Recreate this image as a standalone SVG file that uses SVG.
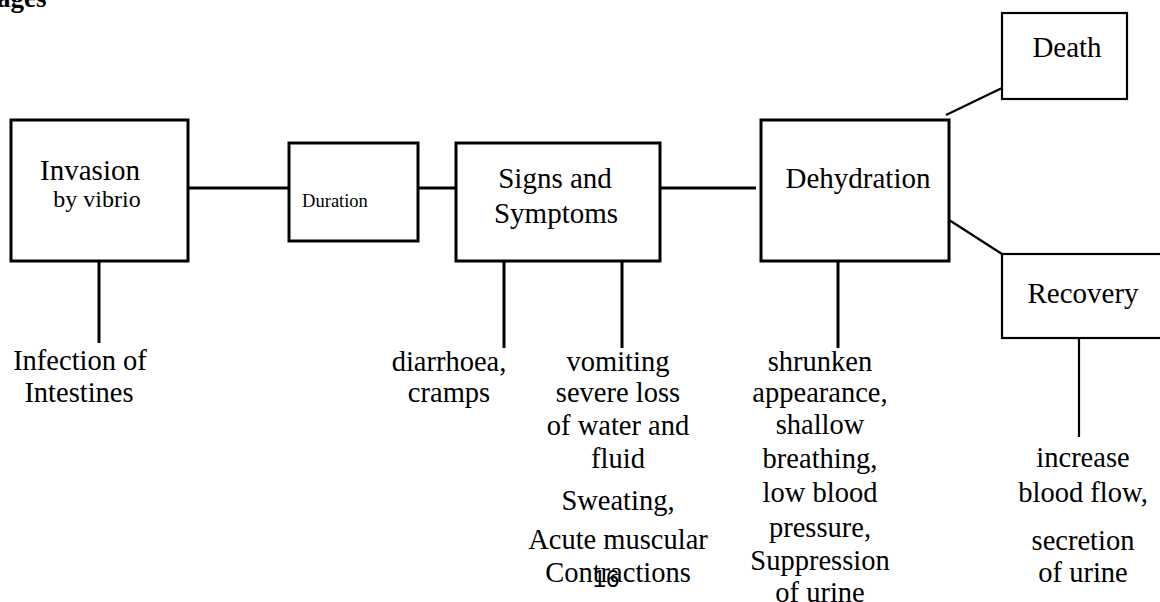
<svg xmlns="http://www.w3.org/2000/svg" width="1160" height="602" viewBox="0 0 1160 602">
<style>
text{font-family:'Liberation Serif','Times New Roman',Times,'DejaVu Serif',serif;fill:#000;text-anchor:middle}
.t{font-size:29px}
.l{font-size:28.5px}
.box{fill:#fff;stroke:#000;stroke-width:3}
.box2{fill:#fff;stroke:#000;stroke-width:2.2}
.c line{stroke:#000;stroke-width:3}
.c .thin{stroke-width:2.2}
</style>
<rect width="1160" height="602" fill="#fff"/>
<text x="-3" y="7" font-family="Liberation Serif, serif" style="font-size:27px;font-weight:bold;text-anchor:start">ages</text>
<g class="c" id="connectors">
<line x1="188" y1="188" x2="289" y2="188"/>
<line x1="418" y1="188" x2="456" y2="188"/>
<line x1="660" y1="188" x2="756" y2="188"/>
<line x1="99" y1="261" x2="99" y2="343"/>
<line x1="504" y1="261" x2="504" y2="348"/>
<line x1="622" y1="261" x2="622" y2="348"/>
<line x1="838" y1="261" x2="838" y2="348"/>
<line class="thin" x1="946" y1="115" x2="1002" y2="88"/>
<line class="thin" x1="946" y1="218" x2="1002" y2="254"/>
<line class="thin" x1="1079" y1="338" x2="1079" y2="437"/>
</g>
<g id="invasion">
<rect class="box" x="11" y="120" width="177" height="141"/>
<text class="t" x="90" y="180">Invasion</text>
<text x="97" y="207" style="font-size:24px">by vibrio</text>
</g>
<g id="duration">
<rect class="box" x="289" y="143" width="129" height="98"/>
<text x="335" y="207" style="font-size:18.5px">Duration</text>
</g>
<g id="signs">
<rect class="box" x="456" y="143" width="204" height="118"/>
<text class="t" x="555" y="188">Signs and</text>
<text class="t" x="556" y="223">Symptoms</text>
</g>
<g id="dehydration">
<rect class="box" x="761" y="120" width="188" height="141"/>
<text class="t" x="858" y="188">Dehydration</text>
</g>
<g id="death">
<rect class="box2" x="1002" y="13" width="125" height="86"/>
<text class="t" x="1067" y="57">Death</text>
</g>
<g id="recovery">
<rect class="box2" x="1002" y="254" width="170" height="84"/>
<text class="t" x="1083" y="303">Recovery</text>
</g>
<g id="infection">
<text class="l" x="80" y="370">Infection of</text>
<text class="l" x="79" y="402">Intestines</text>
</g>
<g id="diarrhoea">
<text class="l" x="449" y="371">diarrhoea,</text>
<text class="l" x="449" y="402">cramps</text>
</g>
<g id="vomiting">
<text class="l" x="618" y="371">vomiting</text>
<text class="l" x="618" y="402">severe loss</text>
<text class="l" x="618" y="435">of water and</text>
<text class="l" x="618" y="468">fluid</text>
<text class="l" x="618" y="510">Sweating,</text>
<text class="l" x="618" y="549">Acute muscular</text>
<text class="l" x="618" y="582">Contractions</text>
</g>
<g id="dehydration-signs">
<text class="l" x="820" y="371">shrunken</text>
<text class="l" x="820" y="402">appearance,</text>
<text class="l" x="820" y="434">shallow</text>
<text class="l" x="820" y="468">breathing,</text>
<text class="l" x="820" y="502">low blood</text>
<text class="l" x="820" y="537">pressure,</text>
<text class="l" x="820" y="570">Suppression</text>
<text class="l" x="820" y="602">of urine</text>
</g>
<g id="recovery-signs">
<text class="l" x="1083" y="467">increase</text>
<text class="l" x="1083" y="502">blood flow,</text>
<text class="l" x="1083" y="550">secretion</text>
<text class="l" x="1083" y="582">of urine</text>
</g>
<text x="606" y="587" style="font-family:'Liberation Sans',Arial,sans-serif;font-size:24px">16</text>
</svg>
